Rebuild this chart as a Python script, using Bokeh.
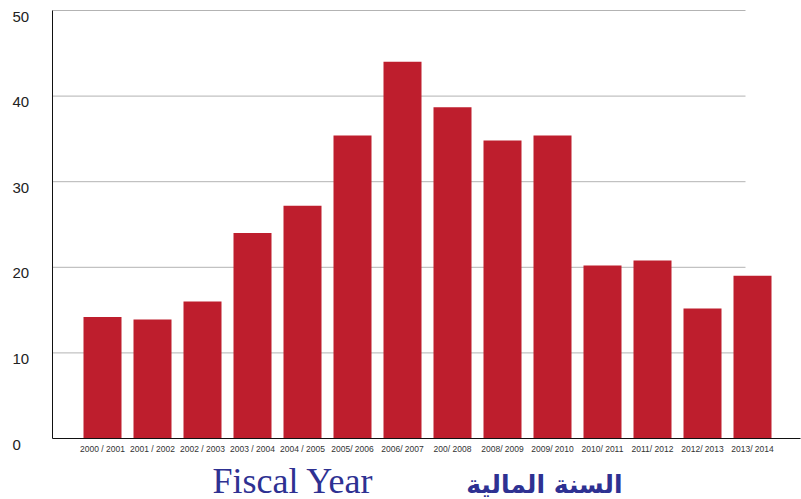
from bokeh.plotting import figure
from bokeh.models import FixedTicker, ColumnDataSource, LinearAxis
from bokeh.core.properties import value
from bokeh.embed import file_html
from bokeh.resources import INLINE

categories = ["2000 / 2001", "2001 / 2002", "2002 / 2003", "2003 / 2004", "2004 / 2005",
              "2005/ 2006", "2006/ 2007", "200/ 2008", "2008/ 2009", "2009/ 2010",
              "2010/ 2011", "2011/ 2012", "2012/ 2013", "2013/ 2014"]
values = [14.2, 13.9, 16.0, 24.0, 27.2, 35.4, 44.0, 38.7, 34.8, 35.4, 20.2, 20.8, 15.2, 19.0]
y_ticks = [0, 10, 20, 30, 40, 50]
x_title = "Fiscal Year"
x_title_ar = "السنة المالية"

positions = list(range(1, len(categories) + 1))

# pixel geometry of the plotting area inside the 801x499 canvas
W, H = 801, 499
LEFT, RIGHT, TOP, BOTTOM = 52, 800, 10, 438
PX_X = 50.0                      # pixels per category step
PX_Y = (BOTTOM - TOP) / 50.0     # pixels per y unit

def dx(px):
    return (px - LEFT) / PX_X

def dy(px):
    return (BOTTOM - px) / PX_Y

p = figure(width=W, height=H, output_backend="svg", toolbar_location=None, title=None,
           x_range=(dx(0), dx(W)), y_range=(dy(H), dy(0)),
           x_axis_location=None, y_axis_location=None,
           min_border_left=0, min_border_right=0, min_border_top=0, min_border_bottom=0)
p.outline_line_color = None
p.grid.visible = False

# horizontal grid lines
grid_y = y_ticks[1:]
grid_src = ColumnDataSource(dict(y=grid_y, x0=[0] * len(grid_y), x1=[dx(745)] * len(grid_y)))
p.segment(x0="x0", x1="x1", y0="y", y1="y", source=grid_src, line_color="#b3b3b3", line_width=1)

# bars
src = ColumnDataSource(dict(x=positions, top=values))
p.vbar(x="x", top="top", width=0.76, source=src, fill_color="#be1e2d", line_color=None)

# vertical axis line
p.segment(x0=[0], x1=[0], y0=[y_ticks[0]], y1=[y_ticks[-1]], line_color="#111111", line_width=1)

# x axis, fixed at y = 0
xaxis = LinearAxis(fixed_location=0, bounds=(0, dx(RIGHT)))
xaxis.ticker = FixedTicker(ticks=positions)
xaxis.major_label_overrides = {pos: lab for pos, lab in zip(positions, categories)}
xaxis.major_label_text_font = "Liberation Sans"
xaxis.major_label_text_font_size = "8.5px"
xaxis.major_label_text_color = "#333333"
xaxis.major_label_standoff = 5
xaxis.major_tick_line_color = None
xaxis.minor_tick_line_color = None
xaxis.major_tick_out = 0
xaxis.major_tick_in = 0
xaxis.axis_line_color = "#111111"
p.add_layout(xaxis, "below")

# y tick labels (left aligned, as in the reference)
lab_src = ColumnDataSource(dict(y=y_ticks, t=[str(v) for v in y_ticks], x=[dx(12)] * len(y_ticks)))
p.text(x="x", y="y", text="t", source=lab_src, text_align="left", text_baseline="middle",
       y_offset=6, text_font=value("Liberation Sans"), text_font_size="15px", text_color="#222222")

# axis titles
p.text(x=[dx(212)], y=[dy(480)], text=[x_title], text_align="left", text_baseline="alphabetic",
       text_font=value("Liberation Serif"), text_font_size="36px", text_color="#2e3192")
p.text(x=[dx(622)], y=[dy(484)], text=[x_title_ar], text_align="right", text_baseline="alphabetic",
       text_font=value("DejaVu Sans"), text_font_style="bold", text_font_size="25px",
       text_color="#2e3192")

open("out.html", "w").write(file_html(p, INLINE))
